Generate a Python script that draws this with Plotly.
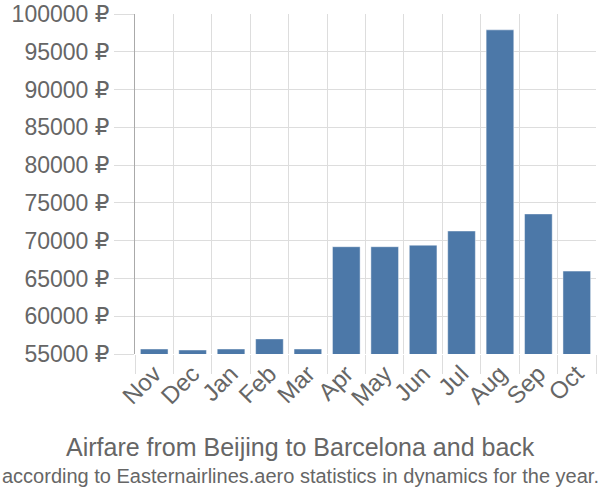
import plotly.graph_objects as go

months = ["Nov", "Dec", "Jan", "Feb", "Mar", "Apr", "May", "Jun", "Jul", "Aug", "Sep", "Oct"]
prices = [55660, 55530, 55660, 57000, 55660, 69200, 69200, 69400, 71280, 97900, 73540, 65970]
y_ticks = [55000, 60000, 65000, 70000, 75000, 80000, 85000, 90000, 95000, 100000]
y_labels = [f"{v} ₽" for v in y_ticks]

FONT = "Liberation Sans, Arial, DejaVu Sans, sans-serif"
L, R, T, B = 135, 4, 14, 146
pw = 600 - L - R
ph = 500 - T - B

fig = go.Figure(go.Bar(
    x=months, y=prices,
    marker=dict(color="#4c78a8", line=dict(color="rgba(255,255,255,0.45)", width=1)),
))

fig.update_layout(
    width=600, height=500,
    margin=dict(l=L, r=R, t=T, b=B, autoexpand=False),
    paper_bgcolor="white", plot_bgcolor="white",
    font=dict(family=FONT, color="#666", size=18),
    bargap=0.28,
    showlegend=False,
    xaxis=dict(
        type="category", tickson="boundaries", tickangle=-45,
        showgrid=True, gridcolor="#ddd", gridwidth=1,
        ticks="outside", ticklen=19, tickcolor="#ddd",
        showline=False, automargin=False,
        tickfont=dict(size=24, color="#666", family=FONT),
    ),
    yaxis=dict(
        range=[55000, 100000], tickmode="array", tickvals=y_ticks, ticktext=y_labels,
        showgrid=True, gridcolor="#ddd", gridwidth=1,
        ticks="outside", ticklen=20, tickcolor="#ddd",
        showline=True, linecolor="#aaa", linewidth=1,
        zeroline=False, automargin=False,
        tickfont=dict(size=23, color="#666", family=FONT),
    ),
)
fig.add_annotation(text="Airfare from Beijing to Barcelona and back",
                   xref="paper", yref="paper", x=(300 - L) / pw, y=(500 - B - 447) / ph,
                   showarrow=False, font=dict(size=25, color="#666", family=FONT), yanchor="middle")
fig.add_annotation(text="according to Easternairlines.aero statistics in dynamics for the year.",
                   xref="paper", yref="paper", x=(300 - L) / pw, y=(500 - B - 476) / ph,
                   showarrow=False, font=dict(size=20, color="#666", family=FONT), yanchor="middle")

fig.write_html("out.html", config={"displayModeBar": False},
               post_script="document.body.style.margin='0';document.body.style.overflow='hidden';")
